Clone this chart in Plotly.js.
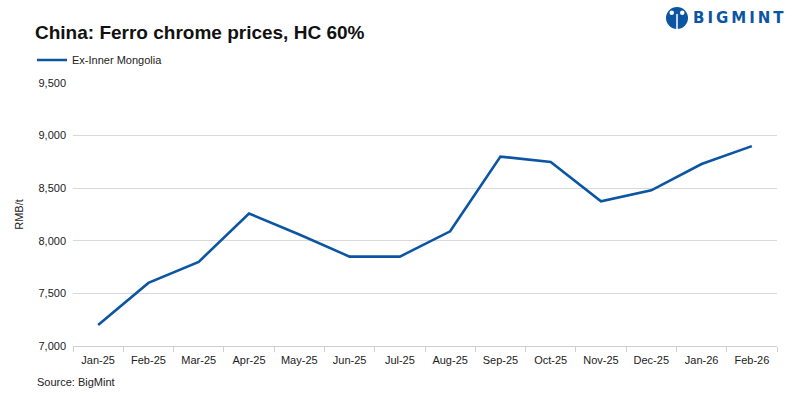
<!DOCTYPE html>
<html>
<head>
<meta charset="utf-8">
<script src="https://cdn.plot.ly/plotly-3.0.1.min.js"></script>
<style>html,body{margin:0;padding:0;background:#fff;}#chart{width:800px;height:399px;}</style>
</head>
<body>
<div id="chart"></div>
<script>
const months = ["Jan-25","Feb-25","Mar-25","Apr-25","May-25","Jun-25","Jul-25","Aug-25","Sep-25","Oct-25","Nov-25","Dec-25","Jan-26","Feb-26"];
const exInnerMongolia = [7200,7600,7800,8260,8060,7850,7850,8090,8800,8750,8375,8480,8730,8900];
const yTicks = [7000,7500,8000,8500,9000,9500];

const FONT = "Liberation Sans, Arial, sans-serif";
const BLUE = "#0b55a3";
const px = v => (v-73)/704;
const py = v => (346-v)/263;

const trace = {
  x: months, y: exInnerMongolia, type: "scatter", mode: "lines",
  name: "Ex-Inner Mongolia",
  line: {color: BLUE, width: 2.6}
};

const layout = {
  width: 800, height: 399,
  margin: {l: 73, r: 23, t: 83, b: 53},
  paper_bgcolor: "#fff", plot_bgcolor: "#fff",
  font: {family: FONT, size: 11, color: "#222"},
  showlegend: true,
  legend: {x: px(32), xanchor: "left", y: py(60), yanchor: "middle", orientation: "h", font: {size: 11, color: "#222"}},
  title: {text: "<b>China: Ferro chrome prices, HC 60%</b>", x: 35/800, xanchor: "left", y: 1 - 32/399, yanchor: "middle", font: {size: 19, color: "#111", family: FONT}},
  xaxis: {
    type: "category", range: [-0.5, months.length - 0.5], tickson: "boundaries", ticks: "outside", ticklen: 5, tickcolor: "#cfcfcf",
    showline: true, linecolor: "#cfcfcf", linewidth: 1, showgrid: false, ticklabelstandoff: 4,
    tickfont: {size: 11, color: "#222"}, fixedrange: true
  },
  yaxis: {
    range: [7000, 9500], tickvals: yTicks, tickformat: ",", separatethousands: true,
    showgrid: true, gridcolor: "#d9d9d9", gridwidth: 1, zeroline: false,
    ticks: "", ticklabelstandoff: 6, tickfont: {size: 11, color: "#222"},
    title: {text: "RMB/t", font: {size: 11, color: "#222"}, standoff: 12}
  },
  annotations: [
    {text: "Source: BigMint", xref: "paper", yref: "paper", x: px(35), y: py(382), xanchor: "left", yanchor: "middle", showarrow: false, font: {size: 11, color: "#222"}},
    {text: "<b>B\u2009I\u2009G\u2009M\u2009I\u2009N\u2009T</b>", xref: "paper", yref: "paper", x: px(691), y: py(18), xanchor: "left", yanchor: "middle", showarrow: false, font: {size: 15, color: BLUE, family: "DejaVu Sans, sans-serif"}}
  ],
  shapes: [
    {type: "circle", xref: "paper", yref: "paper", x0: px(666), x1: px(688), y0: py(29), y1: py(7), fillcolor: BLUE, line: {width: 0}},
    {type: "line", xref: "paper", yref: "paper", x0: px(677), x1: px(677), y0: py(29), y1: py(14), line: {color: "#fff", width: 1.5}},
    {type: "circle", xref: "paper", yref: "paper", x0: px(669.5), x1: px(674), y0: py(15), y1: py(10.5), fillcolor: "#fff", line: {width: 0}},
    {type: "circle", xref: "paper", yref: "paper", x0: px(680), x1: px(684.5), y0: py(15), y1: py(10.5), fillcolor: "#fff", line: {width: 0}}
  ]
};

Plotly.newPlot("chart", [trace], layout, {displayModeBar: false, staticPlot: true});
</script>
</body>
</html>
